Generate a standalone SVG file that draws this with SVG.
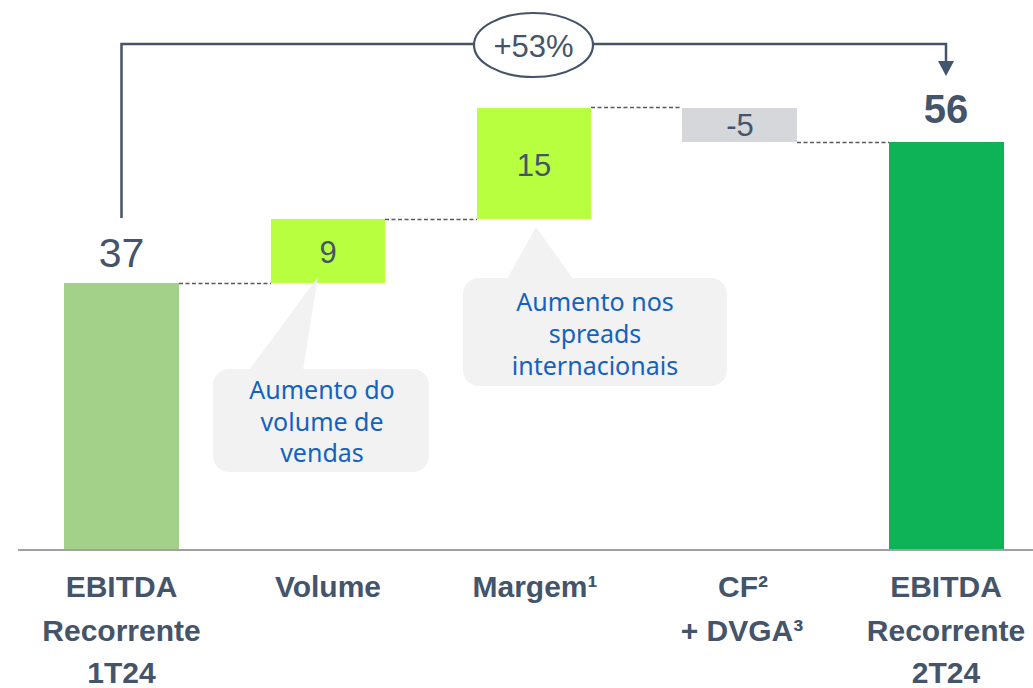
<svg xmlns="http://www.w3.org/2000/svg" width="1033" height="688" viewBox="0 0 1033 688">
<style>
.val{font-family:"Liberation Sans",Arial,sans-serif;fill:#44546a;text-anchor:middle}
.cat{font-family:"Liberation Sans",Arial,sans-serif;font-weight:bold;font-size:30px;fill:#44546a;text-anchor:middle}
.note{font-family:"Noto Sans","Open Sans",sans-serif;font-size:25px;fill:#1262c2;text-anchor:middle}
.dash{stroke:#595959;stroke-width:1.3;stroke-dasharray:4 2.5;fill:none}
.callout{fill:#f2f2f2}
</style>
<rect width="1033" height="688" fill="#ffffff"/>
<line x1="18" y1="550" x2="1033" y2="550" stroke="#a0a0a0" stroke-width="2"/>
<g id="connectors">
<path class="dash" d="M179,283.5 H271"/>
<path class="dash" d="M385,219.5 H477"/>
<path class="dash" d="M591,107.5 H682"/>
<path class="dash" d="M797,142.5 H889"/>
<path d="M121.5,218 V44 H946 V61" fill="none" stroke="#44546a" stroke-width="2.5"/>
<path d="M938,61 L954,61 L946,76 Z" fill="#44546a"/>
</g>
<g id="growth">
<ellipse cx="533.5" cy="45" rx="59.5" ry="32" fill="#ffffff" stroke="#44546a" stroke-width="2.2"/>
<text class="val" x="533.5" y="57" font-size="31">+53%</text>
</g>
<g id="bar-1t24">
<rect x="64" y="283" width="115" height="266" fill="#a3d18a"/>
<text class="val" x="121.5" y="267" font-size="41">37</text>
<text class="cat" x="121.5" y="597">EBITDA</text>
<text class="cat" x="121.5" y="641">Recorrente</text>
<text class="cat" x="121.5" y="683">1T24</text>
</g>
<g id="bar-volume">
<rect x="271" y="219" width="114" height="64" fill="#b8ff40"/>
<text class="val" x="328" y="263" font-size="31">9</text>
<text class="cat" x="328" y="597">Volume</text>
</g>
<g id="bar-margem">
<rect x="477" y="108" width="114" height="111" fill="#b8ff40"/>
<text class="val" x="534" y="176" font-size="31">15</text>
<text class="cat" x="535" y="597">Margem¹</text>
</g>
<g id="bar-cf">
<rect x="682" y="108" width="115" height="34" fill="#d5d7da"/>
<text class="val" x="740" y="136" font-size="31">-5</text>
<text class="cat" x="743" y="597">CF²</text>
<text class="cat" x="742" y="641">+ DVGA³</text>
</g>
<g id="bar-2t24">
<rect x="889" y="142" width="115" height="407" fill="#0db356"/>
<text class="val" x="946" y="123" font-size="40" font-weight="bold">56</text>
<text class="cat" x="946" y="597">EBITDA</text>
<text class="cat" x="946" y="641">Recorrente</text>
<text class="cat" x="946" y="683">2T24</text>
</g>
<g id="note-volume">
<rect class="callout" x="213" y="369" width="216" height="103" rx="16"/>
<path class="callout" d="M249,370 L318,277 L303,370 Z"/>
<text class="note" x="322" y="399">Aumento do</text>
<text class="note" x="322" y="431">volume de</text>
<text class="note" x="322" y="462">vendas</text>
</g>
<g id="note-margem">
<rect class="callout" x="463" y="278" width="264" height="108" rx="16"/>
<path class="callout" d="M507,279 L536,227 L573,279 Z"/>
<text class="note" x="595" y="311">Aumento nos</text>
<text class="note" x="595" y="343">spreads</text>
<text class="note" x="595" y="375">internacionais</text>
</g>
</svg>
